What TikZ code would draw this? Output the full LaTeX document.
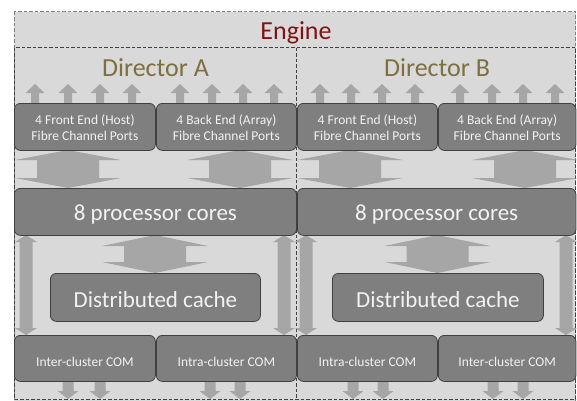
\documentclass[tikz,border=0pt]{standalone}
\usepackage{fontspec}
\setmainfont{Carlito}
\definecolor{bglight}{HTML}{D9D9D9}
\definecolor{boxfill}{HTML}{7F7F7F}
\definecolor{boxedge}{HTML}{404040}
\definecolor{arrowc}{HTML}{A6A6A6}
\definecolor{boxtext}{HTML}{F2F2F2}
\definecolor{enginered}{HTML}{7F1414}
\definecolor{dirolive}{HTML}{7D6F3E}
\definecolor{dashgray}{HTML}{7F7F7F}
\newcommand\lowered[2]{\raisebox{-#1}[\height][\depth]{#2}}
\newcommand\twolines[2]{\begin{tabular}{@{}c@{}}#1\\#2\end{tabular}}
\newcommand\upblk[3]{% x, ybottom, ytop
  \fill[arrowc] ({#1-4},#2) -- ({#1-4},{#3+9}) -- ({#1-9.5},{#3+9}) -- (#1,#3) -- ({#1+9.5},{#3+9}) -- ({#1+4},{#3+9}) -- ({#1+4},#2) -- cycle;}
\newcommand\downblk[3]{% x, ytop, ybottom
  \fill[arrowc] ({#1-5.5},#2) -- ({#1-5.5},{#3-8}) -- ({#1-10.5},{#3-8}) -- (#1,#3) -- ({#1+10.5},{#3-8}) -- ({#1+5.5},{#3-8}) -- ({#1+5.5},#2) -- cycle;}
\newcommand\dblblk[6]{% x, ytop, ybottom, shaft half, head half, head length
  \fill[arrowc] (#1,#2) -- ({#1+#5},{#2+#6}) -- ({#1+#4},{#2+#6}) -- ({#1+#4},{#3-#6}) -- ({#1+#5},{#3-#6}) -- (#1,#3) -- ({#1-#5},{#3-#6}) -- ({#1-#4},{#3-#6}) -- ({#1-#4},{#2+#6}) -- ({#1-#5},{#2+#6}) -- cycle;}
\tikzset{
  box/.style={draw=boxedge, line width=0.8pt, fill=boxfill, rounded corners=6pt,
    text=boxtext, anchor=north west, inner sep=0pt},
  smalltxt/.style={font=\fontsize{13.5}{16}\selectfont},
  bigtxt/.style={font=\fontsize{23}{26}\selectfont},
  headtxt/.style={font=\fontsize{26}{30}\selectfont, anchor=base},
  enginebox/.style={draw=dashgray, fill=bglight, line width=0.8pt, dash pattern=on 3.5pt off 2pt},
  dirbox/.style={draw=boxedge, line width=0.8pt, dash pattern=on 3.5pt off 2pt},
}
\begin{document}
\begin{tikzpicture}[x=1pt,y=-1pt]
\useasboundingbox (0,0) rectangle (577,400);
\fill[white] (0,0) rectangle (577,400);
% engine and directors
\draw[enginebox] (14,11.5) rectangle (575.5,430);
\draw[dirbox] (14,47.5) rectangle (575.5,399);
\draw[dirbox] (296,47.5) -- (296,399);
\node[headtxt, text=enginered] (engine) at (296,39) {Engine};
\node[headtxt, text=dirolive] (dirA) at (155.5,76) {Director A};
\node[headtxt, text=dirolive] (dirB) at (437,76) {Director B};
% up arrows above port boxes
\foreach \x in {35,68,100,132,180,212,243,274,320,351,382,415,460,492,523,555}
  {\upblk{\x}{104}{84}}
% double arrows ports <-> cores
\foreach \x in {68,240,350,525} {\dblblk{\x}{150}{188}{31}{53}{10}}
% double arrows cores <-> cache
\foreach \x in {155,437.5} {\dblblk{\x}{235}{273}{31}{53}{11}}
% thin double arrows cores <-> COM
\foreach \x in {26,284,306,566} {\dblblk{\x}{235}{335}{6.5}{11}{7}}
% down arrows below COM
\foreach \x in {68,100,210,240,353,383,493,523} {\downblk{\x}{380}{399}}
% boxes
\node[box, smalltxt, minimum width=141pt, minimum height=47pt] (feA) at (14,103) {\lowered{2.5pt}{\twolines{4 Front End (Host)}{Fibre Channel Ports}}};
\node[box, smalltxt, minimum width=140pt, minimum height=47pt] (beA) at (156,103) {\lowered{2.5pt}{\twolines{4 Back End (Array)}{Fibre Channel Ports}}};
\node[box, smalltxt, minimum width=140pt, minimum height=47pt] (feB) at (297,103) {\lowered{2.5pt}{\twolines{4 Front End (Host)}{Fibre Channel Ports}}};
\node[box, smalltxt, minimum width=137.5pt, minimum height=47pt] (beB) at (438,103) {\lowered{2.5pt}{\twolines{4 Back End (Array)}{Fibre Channel Ports}}};
\node[box, bigtxt, minimum width=282pt, minimum height=47pt] (cpuA) at (14,188) {\lowered{3pt}{8 processor cores}};
\node[box, bigtxt, minimum width=278.5pt, minimum height=47pt] (cpuB) at (297,188) {\lowered{3pt}{8 processor cores}};
\node[box, bigtxt, minimum width=210pt, minimum height=48pt] (cacheA) at (50,273) {\lowered{2.5pt}{Distributed cache}};
\node[box, bigtxt, minimum width=211pt, minimum height=48pt] (cacheB) at (332,273) {\lowered{2.5pt}{Distributed cache}};
\node[box, smalltxt, minimum width=141pt, minimum height=46pt] (interA) at (14,335) {\lowered{3pt}{Inter-cluster COM}};
\node[box, smalltxt, minimum width=140pt, minimum height=46pt] (intraA) at (156,335) {\lowered{3pt}{Intra-cluster COM}};
\node[box, smalltxt, minimum width=140pt, minimum height=46pt] (intraB) at (297,335) {\lowered{3pt}{Intra-cluster COM}};
\node[box, smalltxt, minimum width=137.5pt, minimum height=46pt] (interB) at (438,335) {\lowered{3pt}{Inter-cluster COM}};
\end{tikzpicture}
\end{document}
